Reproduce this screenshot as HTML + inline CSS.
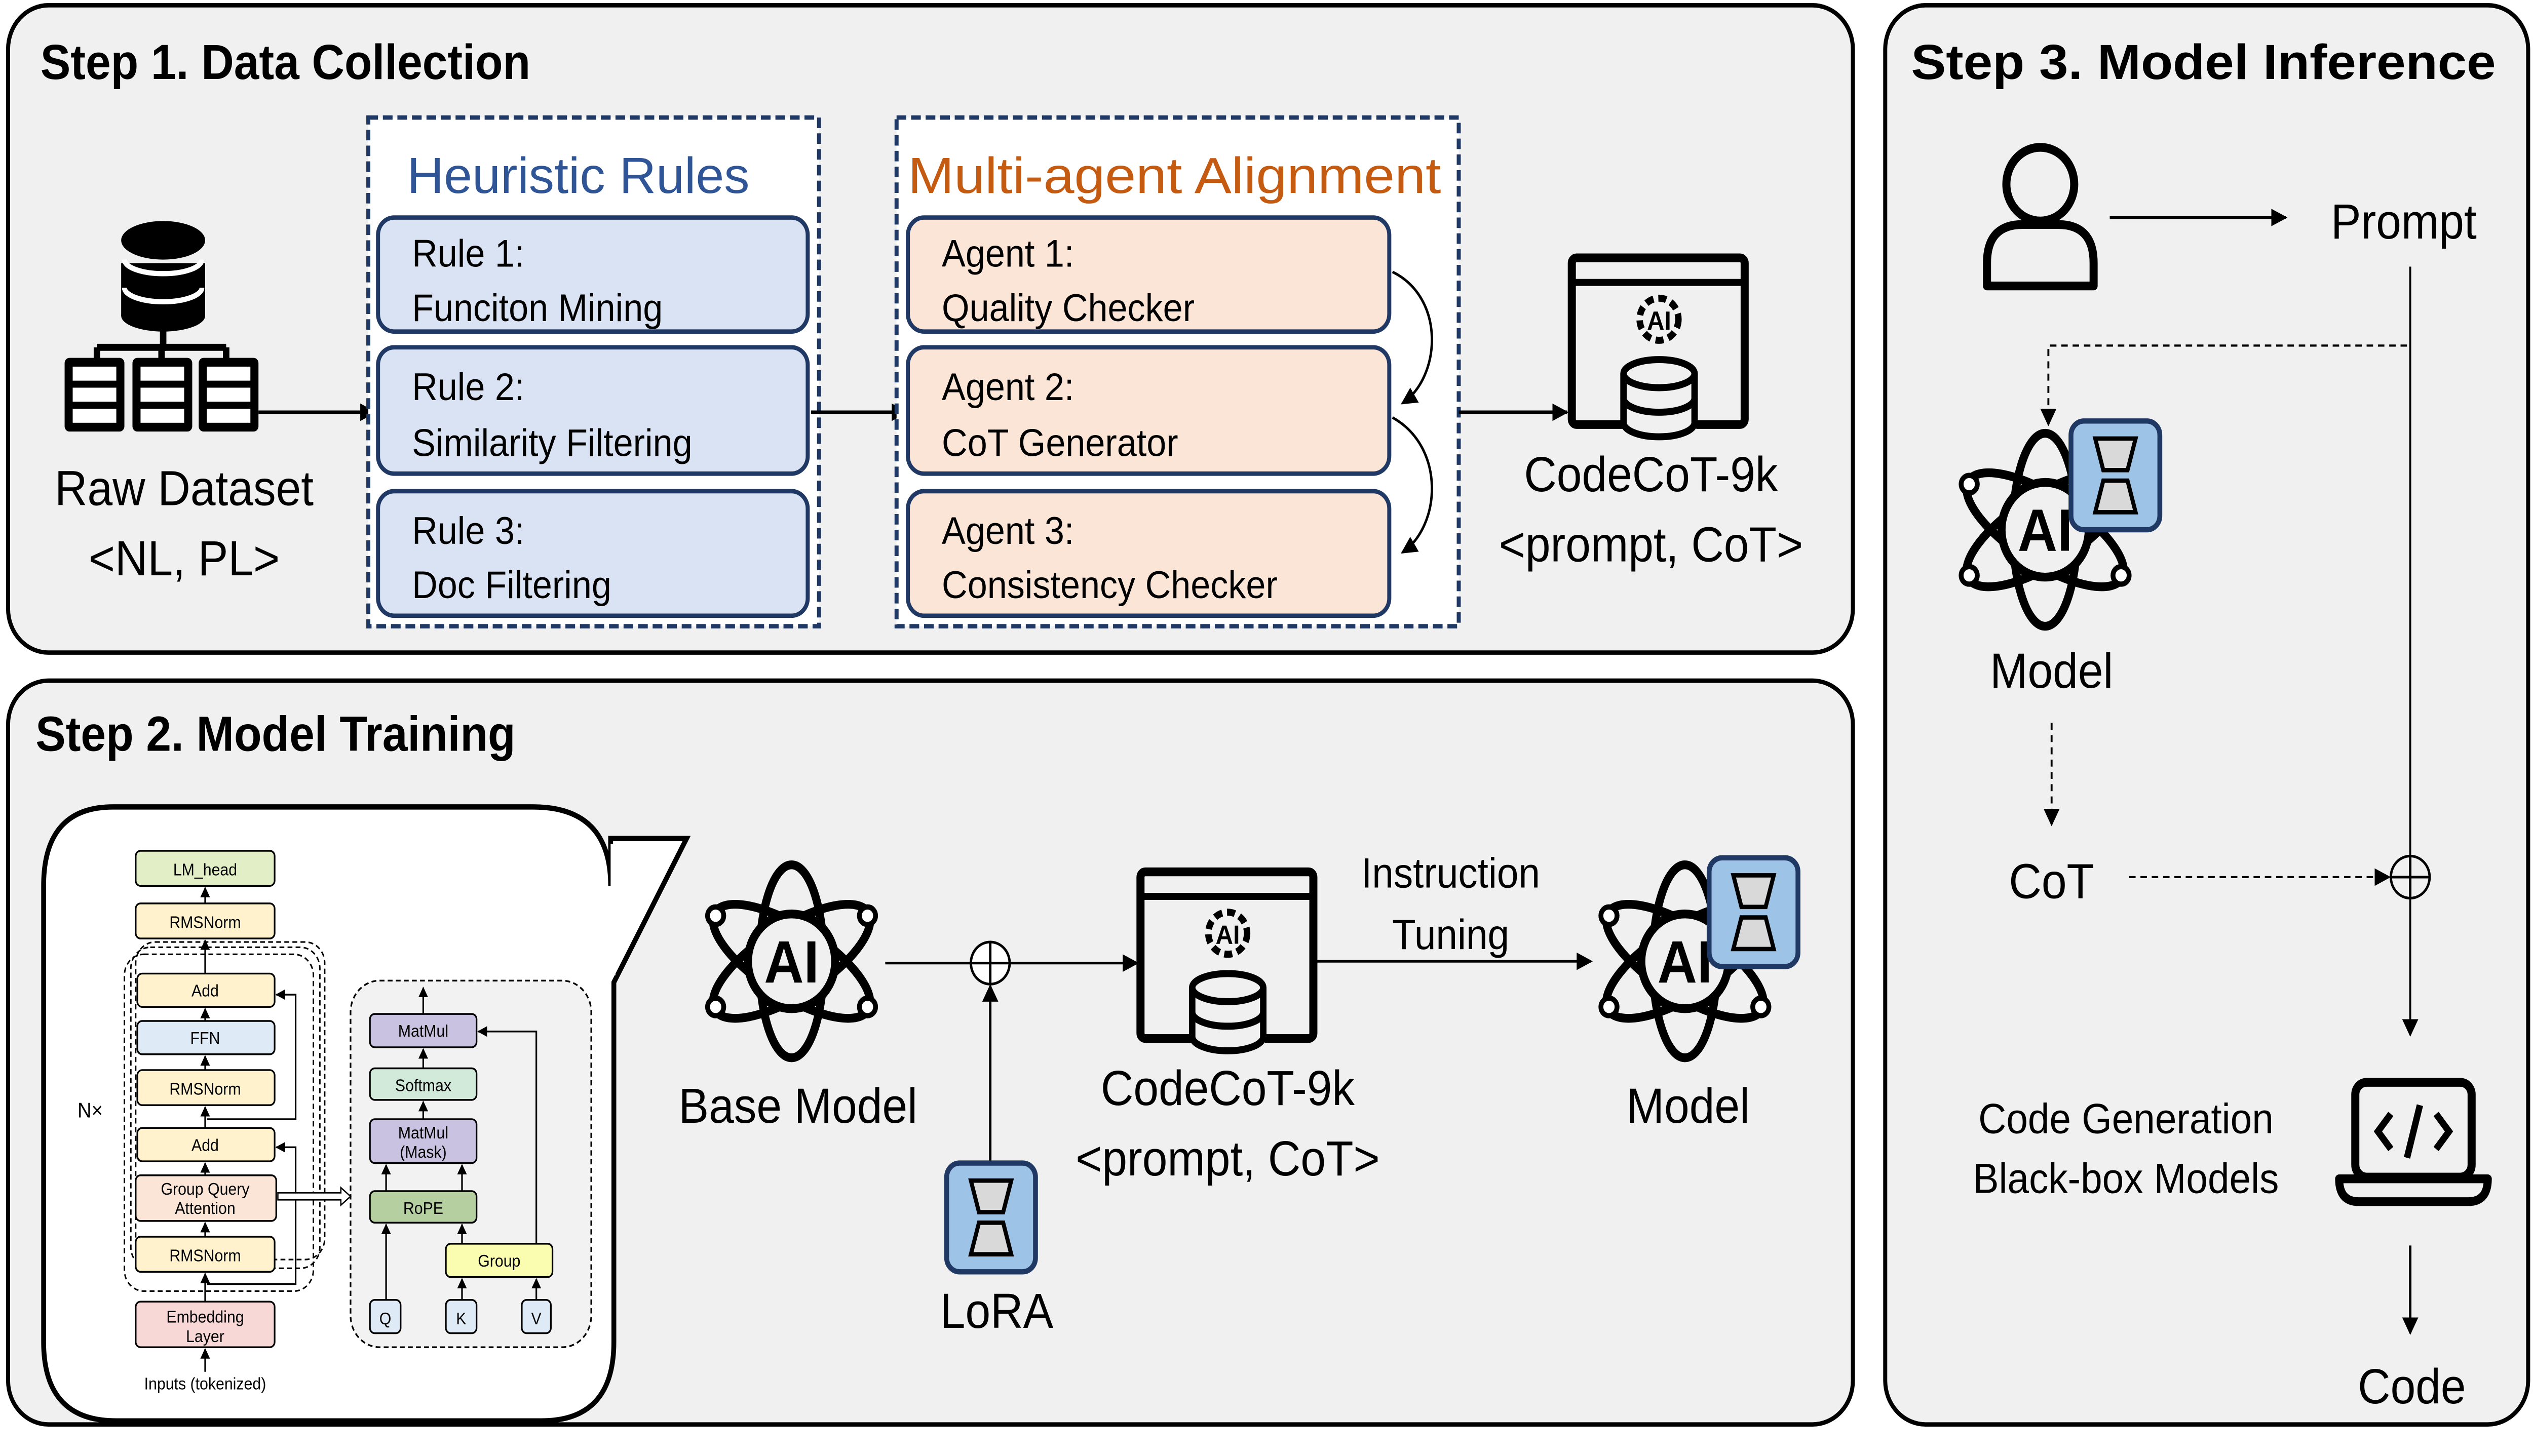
<!DOCTYPE html>
<html><head><meta charset="utf-8"><style>
html,body{margin:0;padding:0;background:#fff;overflow:hidden;width:100%;height:100%;}
svg{display:block;position:fixed;left:0;top:0;width:100vw;height:100vh;}
text{font-family:"Liberation Sans",sans-serif;}
</style></head><body>
<svg viewBox="0 0 1568 830" preserveAspectRatio="none" xmlns="http://www.w3.org/2000/svg">
<defs>
<marker id="ah" markerWidth="10" markerHeight="10" refX="9" refY="5" orient="auto" markerUnits="userSpaceOnUse"><path d="M0,0 L10,5 L0,10 z" fill="#000"/></marker>
<marker id="as" markerWidth="6" markerHeight="6" refX="5.5" refY="3" orient="auto" markerUnits="userSpaceOnUse"><path d="M0,0 L6,3 L0,6 z" fill="#000"/></marker>
<g id="atom">
 <ellipse cx="0" cy="0" rx="20" ry="55" fill="none" stroke="#000" stroke-width="5"/>
 <ellipse cx="0" cy="0" rx="20" ry="55" fill="none" stroke="#000" stroke-width="5" transform="rotate(60)"/>
 <ellipse cx="0" cy="0" rx="20" ry="55" fill="none" stroke="#000" stroke-width="5" transform="rotate(-60)"/>
 <circle cx="0" cy="0" r="27" fill="#f0f0f0" stroke="#000" stroke-width="5"/>
 <circle cx="-47" cy="-26" r="5" fill="#fff" stroke="#000" stroke-width="3"/>
 <circle cx="47" cy="26" r="5" fill="#fff" stroke="#000" stroke-width="3"/>
 <circle cx="47" cy="-26" r="5" fill="#fff" stroke="#000" stroke-width="3"/>
 <circle cx="-47" cy="26" r="5" fill="#fff" stroke="#000" stroke-width="3"/>
 <text x="0" y="12" font-size="34" text-anchor="middle" font-weight="bold">AI</text>
</g>
<g id="lora">
 <rect x="0" y="0" width="55" height="62" rx="8" fill="#9dc3e6" stroke="#1f3864" stroke-width="3"/>
 <path d="M15,10 L40,10 L35,28 L20,28 z" fill="#d9d9d9" stroke="#000" stroke-width="2.5"/>
 <path d="M20,34 L35,34 L40,52 L15,52 z" fill="#d9d9d9" stroke="#000" stroke-width="2.5"/>
</g>
<g id="dbwin">
 <rect x="0" y="0" width="107" height="95" rx="3" fill="#f0f0f0" stroke="#000" stroke-width="5"/>
 <line x1="0" y1="14" x2="107" y2="14" stroke="#000" stroke-width="4"/>
 <circle cx="54" cy="35" r="12" fill="none" stroke="#000" stroke-width="4" stroke-dasharray="5 3"/>
 <text x="54" y="41" font-size="15" font-weight="bold" text-anchor="middle">AI</text>
 <rect x="32" y="60" width="45" height="42" fill="#f0f0f0"/>
 <ellipse cx="54" cy="66" rx="22" ry="8" fill="#f0f0f0" stroke="#000" stroke-width="4"/>
 <path d="M32,66 V94 A22,8 0 0 0 76,94 V66" fill="none" stroke="#000" stroke-width="4"/>
 <path d="M32,80 A22,8 0 0 0 76,80" fill="none" stroke="#000" stroke-width="4"/>
</g>
</defs>

<rect x="5" y="3" width="1142" height="369" rx="25" fill="#f0f0f0" stroke="#000" stroke-width="2.5"/>
<rect x="5" y="388" width="1142" height="424" rx="25" fill="#f0f0f0" stroke="#000" stroke-width="2.5"/>
<rect x="1167" y="3" width="398" height="809" rx="25" fill="#f0f0f0" stroke="#000" stroke-width="2.5"/>
<text x="25" y="45" font-size="28" font-weight="bold">Step 1. Data Collection</text>
<text x="22" y="428" font-size="28" font-weight="bold">Step 2. Model Training</text>
<text x="1183" y="45" font-size="28" font-weight="bold" textLength="362" lengthAdjust="spacingAndGlyphs">Step 3. Model Inference</text>

<rect x="75" y="150" width="52" height="30" fill="#000"/>
<ellipse cx="101" cy="137" rx="26" ry="11" fill="#000"/>
<ellipse cx="101" cy="180" rx="26" ry="9" fill="#000"/>
<path d="M77,148 A24,8 0 0 0 125,148 M77,164 A24,8 0 0 0 125,164" stroke="#fff" stroke-width="3" fill="none"/>
<line x1="101" y1="185" x2="101" y2="200" stroke="#000" stroke-width="4"/>
<path d="M60,198 H140 M60,198 V206 M100,198 V206 M140,198 V206" stroke="#000" stroke-width="4" fill="none"/>
<g fill="#000">
 <rect x="40" y="204" width="37" height="42" rx="3"/><rect x="82" y="204" width="37" height="42" rx="3"/><rect x="123" y="204" width="37" height="42" rx="3"/>
</g>
<g fill="#fff">
 <rect x="45" y="209" width="27" height="8"/><rect x="45" y="221" width="27" height="8"/><rect x="45" y="233" width="27" height="8"/>
 <rect x="87" y="209" width="27" height="8"/><rect x="87" y="221" width="27" height="8"/><rect x="87" y="233" width="27" height="8"/>
 <rect x="128" y="209" width="27" height="8"/><rect x="128" y="221" width="27" height="8"/><rect x="128" y="233" width="27" height="8"/>
</g>
<text x="114" y="288" font-size="28" text-anchor="middle">Raw Dataset</text>
<text x="114" y="328" font-size="28" text-anchor="middle">&lt;NL, PL&gt;</text>
<line x1="160" y1="235" x2="232" y2="235" stroke="#000" stroke-width="2" marker-end="url(#ah)"/>

<rect x="228" y="67" width="279" height="290" fill="#fff" stroke="#1f3864" stroke-width="2.5" stroke-dasharray="6 3"/>
<text x="252" y="110" font-size="29" fill="#2f5597" textLength="212" lengthAdjust="spacingAndGlyphs">Heuristic Rules</text>
<g fill="#dae3f3" stroke="#1f3864" stroke-width="2.5">
 <rect x="234" y="124" width="266" height="65" rx="10"/>
 <rect x="234" y="198" width="266" height="72" rx="10"/>
 <rect x="234" y="280" width="266" height="71" rx="10"/>
</g>
<g font-size="22">
 <text x="255" y="152">Rule 1:</text><text x="255" y="183">Funciton Mining</text>
 <text x="255" y="228">Rule 2:</text><text x="255" y="260">Similarity Filtering</text>
 <text x="255" y="310">Rule 3:</text><text x="255" y="341">Doc Filtering</text>
</g>
<line x1="502" y1="235" x2="561" y2="235" stroke="#000" stroke-width="2" marker-end="url(#ah)"/>

<rect x="555" y="67" width="348" height="290" fill="#fff" stroke="#1f3864" stroke-width="2.5" stroke-dasharray="6 3"/>
<text x="562" y="110" font-size="29" fill="#c55a11" textLength="330" lengthAdjust="spacingAndGlyphs">Multi-agent Alignment</text>
<g fill="#fbe5d6" stroke="#1f3864" stroke-width="2.5">
 <rect x="562" y="124" width="298" height="65" rx="10"/>
 <rect x="562" y="198" width="298" height="72" rx="10"/>
 <rect x="562" y="280" width="298" height="71" rx="10"/>
</g>
<g font-size="22">
 <text x="583" y="152">Agent 1:</text><text x="583" y="183">Quality Checker</text>
 <text x="583" y="228">Agent 2:</text><text x="583" y="260">CoT Generator</text>
 <text x="583" y="310">Agent 3:</text><text x="583" y="341">Consistency Checker</text>
</g>
<path d="M862,155 C895,170 892,215 868,230" fill="none" stroke="#000" stroke-width="1.5" marker-end="url(#ah)"/>
<path d="M862,238 C895,255 892,300 868,315" fill="none" stroke="#000" stroke-width="1.5" marker-end="url(#ah)"/>
<line x1="903" y1="235" x2="970" y2="235" stroke="#000" stroke-width="2" marker-end="url(#ah)"/>

<use href="#dbwin" x="973" y="147"/>
<text x="1022" y="280" font-size="28" text-anchor="middle">CodeCoT-9k</text>
<text x="1022" y="320" font-size="28" text-anchor="middle">&lt;prompt, CoT&gt;</text>

<path d="M70,460 H330 Q378,460 378,505 V478 H425 L380,560 V765 Q380,810 335,810 H72 Q27,810 27,765 V505 Q27,460 70,460 z" fill="#fff" stroke="#000" stroke-width="3"/>
<rect x="378" y="481" width="3" height="75" fill="#fff"/>

<g stroke="#000" stroke-width="0.9" fill="none" stroke-dasharray="3 2">
 <rect x="84" y="537" width="117" height="181" rx="12"/>
 <rect x="81" y="540" width="117" height="183" rx="12"/>
 <rect x="77" y="544" width="117" height="192" rx="12"/>
</g>
<rect x="217" y="559" width="149" height="209" rx="18" fill="#f2f2f2" stroke="#000" stroke-width="1" stroke-dasharray="3 2"/>
<g stroke="#000" stroke-width="1">
 <rect x="84" y="485" width="86" height="20" rx="3" fill="#e2efc6"/>
 <rect x="84" y="515" width="86" height="20" rx="3" fill="#fff2cc"/>
 <rect x="85" y="555" width="85" height="19" rx="3" fill="#fff2cc"/>
 <rect x="85" y="582" width="85" height="19" rx="3" fill="#deebf7"/>
 <rect x="85" y="610" width="85" height="20" rx="3" fill="#fff2cc"/>
 <rect x="85" y="643" width="85" height="19" rx="3" fill="#fff2cc"/>
 <rect x="84" y="670" width="87" height="26" rx="3" fill="#fbe5d6"/>
 <rect x="84" y="705" width="86" height="20" rx="3" fill="#fff2cc"/>
 <rect x="84" y="742" width="86" height="26" rx="3" fill="#f8d7d7"/>
 <rect x="229" y="578" width="66" height="19" rx="3" fill="#c9c2e0"/>
 <rect x="229" y="609" width="66" height="18" rx="3" fill="#d1ead9"/>
 <rect x="229" y="638" width="66" height="25" rx="3" fill="#c9c2e0"/>
 <rect x="229" y="679" width="66" height="18" rx="3" fill="#b5cfa0"/>
 <rect x="276" y="709" width="66" height="19" rx="3" fill="#fafdb0"/>
 <rect x="229" y="741" width="19" height="19" rx="3" fill="#deebf7"/>
 <rect x="276" y="741" width="19" height="19" rx="3" fill="#deebf7"/>
 <rect x="323" y="741" width="18" height="19" rx="3" fill="#deebf7"/>
</g>
<g font-size="9.5" text-anchor="middle">
 <text x="127" y="499">LM_head</text>
 <text x="127" y="529">RMSNorm</text>
 <text x="127" y="568">Add</text>
 <text x="127" y="595">FFN</text>
 <text x="127" y="624">RMSNorm</text>
 <text x="127" y="656">Add</text>
 <text x="127" y="681">Group Query</text><text x="127" y="692">Attention</text>
 <text x="127" y="719">RMSNorm</text>
 <text x="127" y="754">Embedding</text><text x="127" y="765">Layer</text>
 <text x="127" y="792">Inputs (tokenized)</text>
 <text x="262" y="591">MatMul</text>
 <text x="262" y="622">Softmax</text>
 <text x="262" y="649">MatMul</text><text x="262" y="660">(Mask)</text>
 <text x="262" y="692">RoPE</text>
 <text x="309" y="722">Group</text>
 <text x="238.5" y="755">Q</text><text x="285.5" y="755">K</text><text x="332" y="755">V</text>
</g>
<text x="48" y="637" font-size="12">N×</text>
<g stroke="#000" stroke-width="1" fill="none" marker-end="url(#as)">
 <line x1="127" y1="515" x2="127" y2="506"/>
 <line x1="127" y1="555" x2="127" y2="536"/>
 <line x1="127" y1="582" x2="127" y2="575"/>
 <line x1="127" y1="610" x2="127" y2="602"/>
 <line x1="127" y1="643" x2="127" y2="631"/>
 <line x1="127" y1="670" x2="127" y2="663"/>
 <line x1="127" y1="705" x2="127" y2="697"/>
 <line x1="127" y1="742" x2="127" y2="726"/>
 <line x1="127" y1="782" x2="127" y2="769"/>
 <path d="M128,638 H183 V567 H171"/>
 <path d="M128,732 H183 V654 H171"/>
 <line x1="262" y1="578" x2="262" y2="563"/>
 <line x1="262" y1="609" x2="262" y2="598"/>
 <line x1="262" y1="638" x2="262" y2="628"/>
 <line x1="239" y1="679" x2="239" y2="664"/>
 <line x1="286" y1="679" x2="286" y2="664"/>
 <line x1="239" y1="741" x2="239" y2="698"/>
 <line x1="286" y1="709" x2="286" y2="698"/>
 <line x1="286" y1="741" x2="286" y2="729"/>
 <line x1="332" y1="741" x2="332" y2="729"/>
 <path d="M332,709 V588 H296"/>
</g>
<path d="M172,680 H211 V677 L217,682 L211,687 V684 H172 z" fill="#fff" stroke="#000" stroke-width="0.8"/>

<use href="#atom" x="490" y="548"/>
<text x="494" y="640" font-size="28" text-anchor="middle">Base Model</text>
<line x1="548" y1="549" x2="601" y2="549" stroke="#000" stroke-width="1.5"/>
<circle cx="613" cy="549" r="12" fill="#fff" stroke="#000" stroke-width="1.5"/>
<path d="M601,549 H625 M613,537 V561" stroke="#000" stroke-width="1.5"/>
<line x1="625" y1="549" x2="704" y2="549" stroke="#000" stroke-width="1.5" marker-end="url(#ah)"/>
<line x1="613" y1="663" x2="613" y2="562" stroke="#000" stroke-width="1.5" marker-end="url(#ah)"/>
<use href="#lora" x="586" y="663"/>
<text x="617" y="757" font-size="28" text-anchor="middle">LoRA</text>
<use href="#dbwin" x="706" y="497"/>
<text x="760" y="630" font-size="28" text-anchor="middle">CodeCoT-9k</text>
<text x="760" y="670" font-size="28" text-anchor="middle">&lt;prompt, CoT&gt;</text>
<text x="898" y="506" font-size="24" text-anchor="middle">Instruction</text>
<text x="898" y="541" font-size="24" text-anchor="middle">Tuning</text>
<line x1="815" y1="548" x2="985" y2="548" stroke="#000" stroke-width="1.5" marker-end="url(#ah)"/>
<use href="#atom" x="1043" y="548"/>
<use href="#lora" x="1058" y="489"/>
<text x="1045" y="640" font-size="28" text-anchor="middle">Model</text>

<circle cx="1263" cy="105" r="21" fill="none" stroke="#000" stroke-width="5"/>
<path d="M1230,163 V150 Q1230,128 1252,128 H1274 Q1296,128 1296,150 V163 z" fill="none" stroke="#000" stroke-width="5" stroke-linejoin="round"/>
<line x1="1306" y1="124" x2="1415" y2="124" stroke="#000" stroke-width="1.5" marker-end="url(#ah)"/>
<text x="1488" y="136" font-size="28" text-anchor="middle">Prompt</text>
<line x1="1492" y1="152" x2="1492" y2="590" stroke="#000" stroke-width="1.2" marker-end="url(#ah)"/>
<path d="M1490,197 H1268 V242" fill="none" stroke="#000" stroke-width="1.2" stroke-dasharray="4 3" marker-end="url(#ah)"/>
<use href="#atom" x="1266" y="302"/>
<use href="#lora" x="1282" y="240"/>
<text x="1270" y="392" font-size="28" text-anchor="middle">Model</text>
<line x1="1270" y1="412" x2="1270" y2="470" stroke="#000" stroke-width="1.2" stroke-dasharray="4 3" marker-end="url(#ah)"/>
<text x="1270" y="512" font-size="28" text-anchor="middle">CoT</text>
<line x1="1318" y1="500" x2="1479" y2="500" stroke="#000" stroke-width="1.2" stroke-dasharray="4 3" marker-end="url(#ah)"/>
<circle cx="1492" cy="500" r="12" fill="#f0f0f0" stroke="#000" stroke-width="1.5"/>
<path d="M1480,500 H1504 M1492,488 V512" stroke="#000" stroke-width="1.5"/>
<text x="1316" y="646" font-size="24" text-anchor="middle">Code Generation</text>
<text x="1316" y="680" font-size="24" text-anchor="middle">Black-box Models</text>
<rect x="1458" y="617" width="72" height="54" rx="7" fill="none" stroke="#000" stroke-width="5"/>
<path d="M1448,672 H1540 Q1540,685 1528,685 H1460 Q1448,685 1448,672 z" fill="none" stroke="#000" stroke-width="5" stroke-linejoin="round"/>
<path d="M1480,635 L1472,645 L1480,655 M1508,635 L1516,645 L1508,655 M1498,630 L1490,660" fill="none" stroke="#000" stroke-width="4"/>
<line x1="1492" y1="710" x2="1492" y2="760" stroke="#000" stroke-width="1.5" marker-end="url(#ah)"/>
<text x="1493" y="800" font-size="28" text-anchor="middle">Code</text>
</svg>
</body></html>
